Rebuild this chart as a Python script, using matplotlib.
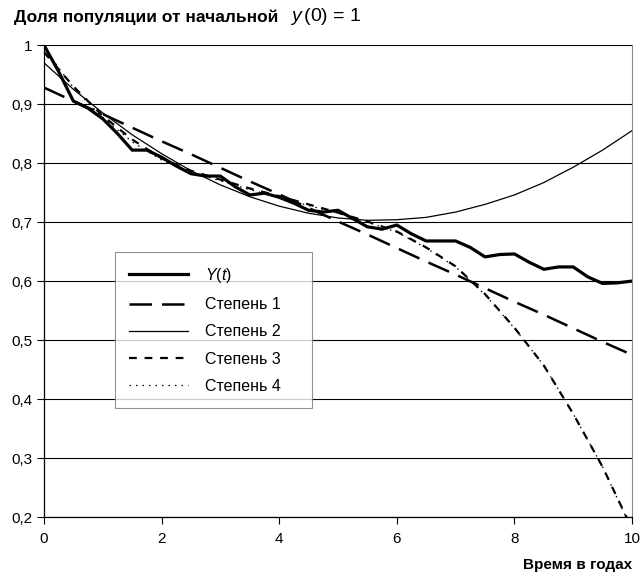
import matplotlib
matplotlib.use("Agg")
import matplotlib.pyplot as plt

plt.rcParams['font.family'] = ['Liberation Sans', 'DejaVu Sans']
plt.rcParams['mathtext.fontset'] = 'custom'
plt.rcParams['mathtext.rm'] = 'Liberation Sans'
plt.rcParams['mathtext.it'] = 'Liberation Sans:italic'

# observed share Y(t), quarterly
t_obs = [0, 0.25, 0.5, 0.75, 1.0, 1.25, 1.5, 1.75, 2.0, 2.25, 2.5, 2.75, 3.0,
         3.25, 3.5, 3.75, 4.0, 4.25, 4.5, 4.75, 5.0, 5.25, 5.5, 5.75, 6.0,
         6.25, 6.5, 6.75, 7.0, 7.25, 7.5, 7.75, 8.0, 8.25, 8.5, 8.75, 9.0,
         9.25, 9.5, 9.75, 10.0]
y_obs = [1.0, 0.955, 0.905, 0.893, 0.875, 0.85, 0.822, 0.822, 0.81, 0.795,
         0.782, 0.778, 0.778, 0.76, 0.746, 0.749, 0.742, 0.732, 0.72, 0.717,
         0.72, 0.706, 0.692, 0.688, 0.695, 0.68, 0.668, 0.668, 0.668, 0.657,
         0.641, 0.645, 0.646, 0.632, 0.62, 0.624, 0.624, 0.607, 0.596, 0.597,
         0.6]

# fitted trends, read every half year
t_fit = [0, 0.5, 1.0, 1.5, 2.0, 2.5, 3.0, 3.5, 4.0, 4.5, 5.0, 5.5, 6.0, 6.5,
         7.0, 7.5, 8.0, 8.5, 9.0, 9.5, 10.0]
deg1 = [0.928, 0.905, 0.883, 0.860, 0.837, 0.815, 0.792, 0.769, 0.747, 0.724,
        0.701, 0.679, 0.656, 0.633, 0.611, 0.588, 0.565, 0.543, 0.520, 0.497,
        0.475]
deg2 = [0.970, 0.925, 0.885, 0.848, 0.816, 0.787, 0.763, 0.743, 0.727, 0.715,
        0.707, 0.703, 0.704, 0.708, 0.717, 0.730, 0.746, 0.767, 0.793, 0.822,
        0.855]
deg3 = [0.988, 0.930, 0.880, 0.840, 0.808, 0.787, 0.772, 0.757, 0.744, 0.730,
        0.716, 0.701, 0.684, 0.657, 0.625, 0.578, 0.521, 0.457, 0.375, 0.285,
        0.180]
deg4 = [0.995, 0.928, 0.877, 0.836, 0.805, 0.785, 0.770, 0.755, 0.742, 0.728,
        0.715, 0.700, 0.683, 0.656, 0.624, 0.577, 0.520, 0.457, 0.375, 0.285,
        0.178]

fig = plt.figure(figsize=(6.41, 5.81), dpi=100)
ax = fig.add_axes([0.0686, 0.110, 0.9174, 0.8124])

ax.plot(t_obs, y_obs, color="black", lw=2.3, label="$Y(t)$", zorder=5)
ax.plot(t_fit, deg1, color="black", lw=1.8, dashes=(9, 4), label="Степень 1")
ax.plot(t_fit, deg2, color="black", lw=0.9, label="Степень 2")
ax.plot(t_fit, deg3, color="black", lw=1.6, dashes=(3.5, 3.5), label="Степень 3")
ax.plot(t_fit, deg4, color="black", lw=0.9, dashes=(1.2, 4), label="Степень 4")

ax.set_xlim(0, 10)
ax.set_ylim(0.2, 1.0)
ax.set_xticks([0, 2, 4, 6, 8, 10])
ax.set_yticks([0.2, 0.3, 0.4, 0.5, 0.6, 0.7, 0.8, 0.9, 1.0])
ax.set_yticklabels(["0,2", "0,3", "0,4", "0,5", "0,6", "0,7", "0,8", "0,9", "1"])
ax.tick_params(direction="out", length=5, width=0.8, labelsize=11, color="black")
ax.tick_params(axis="x", pad=6)
ax.yaxis.grid(True, color="black", lw=0.8)
ax.set_axisbelow(True)
ax.spines["top"].set_visible(False)
ax.spines["right"].set_color("#888888")
ax.spines["left"].set_linewidth(0.9)
ax.spines["bottom"].set_linewidth(0.9)

leg = ax.legend(loc="upper left", bbox_to_anchor=(0.121, 0.233, 0.335, 0.328),
                mode="expand", fontsize=11.5,
                frameon=True, fancybox=False, edgecolor="#777777",
                handlelength=3.7, handletextpad=1.1, labelspacing=0.77,
                borderpad=0.85, borderaxespad=0)
leg.get_frame().set_linewidth(0.8)

fig.text(0.022, 0.971, "Доля популяции от начальной", fontsize=12.5,
         fontweight="bold", va="center", ha="left")
fig.text(0.452, 0.971, r"$y\,(0)$ = 1", fontsize=14, va="center", ha="left")
fig.text(0.986, 0.027, "Время в годах", fontsize=11, fontweight="bold",
         va="center", ha="right")

fig.savefig("out.png", dpi=100)
